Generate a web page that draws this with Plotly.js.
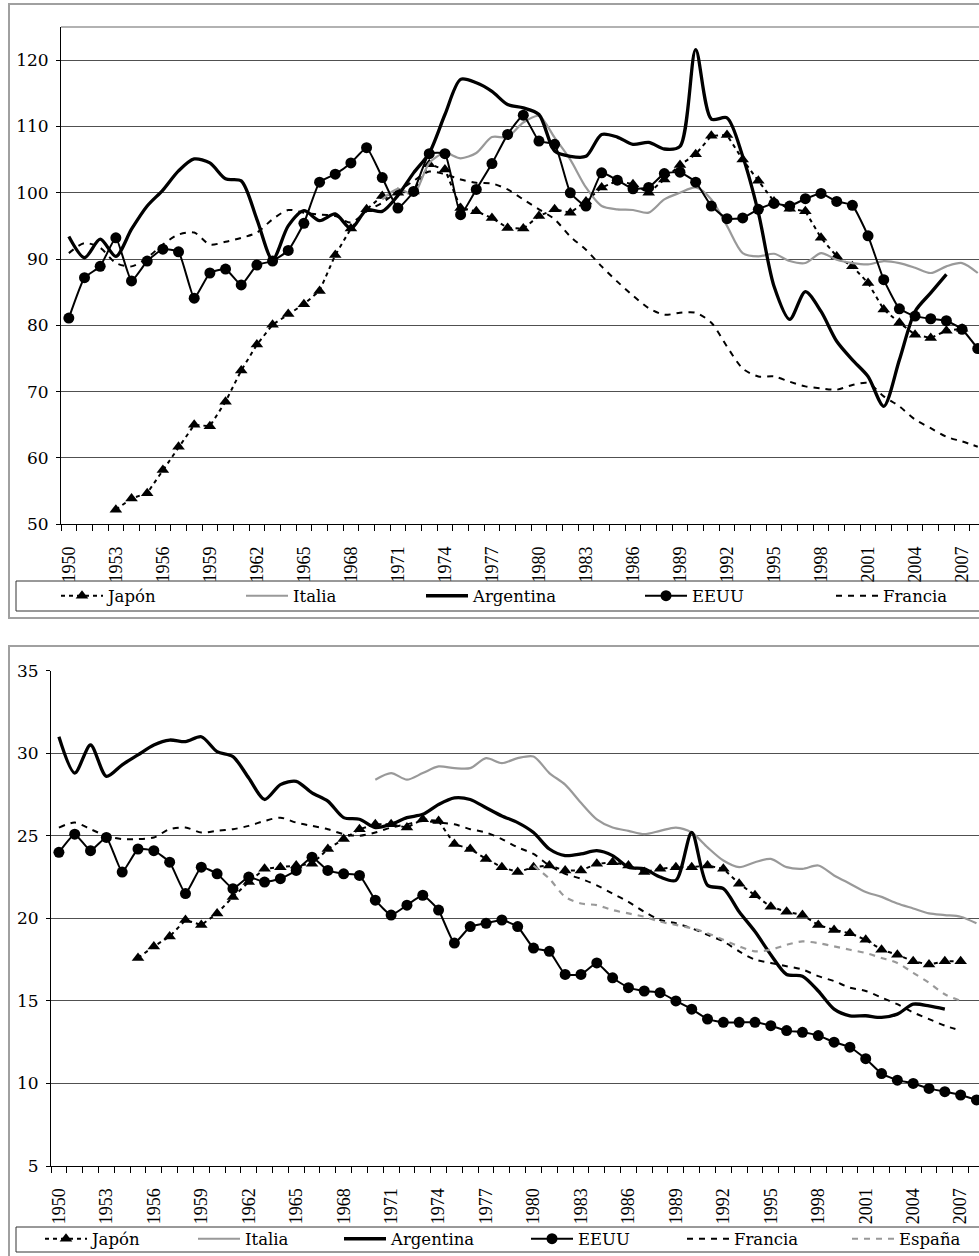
<!DOCTYPE html>
<html><head><meta charset="utf-8">
<script src="https://cdn.plot.ly/plotly-3.0.1.min.js"></script>
<style>html,body{margin:0;padding:0;background:#fff;overflow:hidden}#chart{width:979px;height:1256px}</style>
</head><body><div id="chart"></div>
<script>
const years = [1950,1951,1952,1953,1954,1955,1956,1957,1958,1959,1960,1961,1962,1963,1964,1965,1966,1967,1968,1969,
1970,1971,1972,1973,1974,1975,1976,1977,1978,1979,1980,1981,1982,1983,1984,1985,1986,1987,1988,1989,
1990,1991,1992,1993,1994,1995,1996,1997,1998,1999,2000,2001,2002,2003,2004,2005,2006,2007,2008];
const tickLabels = ['1950','1953','1956','1959','1962','1965','1968','1971','1974','1977','1980','1983','1986','1989','1992','1995','1998','2001','2004','2007'];
const seriesNames = ['Japón','Italia','Argentina','EEUU','Francia','España'];

// Top chart
const japonTop = [null,null,null,52.2,53.9,54.7,58.2,61.7,65.0,64.8,68.5,73.2,77.1,80.1,81.7,83.2,85.2,90.6,94.6,97.5,
99.5,100.0,100.2,104.3,103.5,97.7,97.2,96.2,94.7,94.6,96.5,97.5,97.0,98.7,100.8,101.8,101.3,100.0,102.0,104.2,
105.8,108.6,108.7,105.0,101.8,98.7,97.6,97.2,93.2,90.4,88.9,86.4,82.4,80.4,78.6,78.1,79.2,79.5,null];
const italiaTop = [null,null,null,null,null,null,null,null,null,null,null,null,null,null,null,null,null,null,null,null,
99.0,100.6,99.8,104.5,106.0,105.2,106.0,108.4,108.4,110.6,111.6,108.3,105.0,100.8,98.0,97.5,97.4,97.0,99.0,100.0,
100.8,99.0,95.0,90.9,90.4,90.8,89.7,89.4,90.9,89.9,89.4,89.2,89.7,89.4,88.7,87.9,88.9,89.4,87.9];
const argentinaTop = [93.4,90.2,93.0,90.4,94.5,98.0,100.4,103.3,105.1,104.5,102.1,101.8,96.0,89.9,95.0,97.3,95.8,96.8,94.6,97.4,
97.2,99.6,103.0,106.0,111.8,117.1,116.6,115.3,113.3,112.8,111.8,106.3,105.5,105.5,108.8,108.4,107.3,107.6,106.6,107.0,
121.6,111.1,111.3,105.5,97.0,85.9,80.9,85.1,82.1,77.6,74.8,72.3,67.8,74.8,82.1,84.9,87.7,null,null];
const eeuuTop = [81.1,87.2,88.9,93.2,86.7,89.7,91.5,91.1,84.1,87.9,88.5,86.1,89.1,89.7,91.3,95.4,101.6,102.8,104.5,106.8,
102.3,97.7,100.2,105.9,105.9,96.7,100.5,104.4,108.8,111.7,107.8,107.3,100.0,98.0,103.0,101.9,100.6,100.8,102.9,103.1,
101.6,98.0,96.1,96.2,97.5,98.4,98.0,99.1,99.9,98.7,98.1,93.5,86.9,82.5,81.4,81.0,80.7,79.4,76.5];
const franciaTop = [90.9,92.4,91.7,89.4,88.9,90.2,92.2,93.7,94.0,92.2,92.6,93.2,94.0,96.0,97.4,97.0,96.7,96.5,95.5,97.2,
98.5,100.2,101.8,103.2,102.8,102.0,101.5,101.4,100.5,99.0,97.5,96.0,93.4,91.4,88.9,86.6,84.5,82.6,81.6,81.9,
81.9,80.4,76.8,73.5,72.3,72.3,71.5,70.8,70.5,70.3,71.0,71.3,69.3,67.8,65.8,64.5,63.2,62.5,61.7];

// Bottom chart
const japonBot = [null,null,null,null,null,17.6,18.3,18.9,19.9,19.6,20.3,21.3,22.2,23.0,23.1,23.2,23.3,24.2,24.8,25.4,
25.7,25.7,25.5,26.0,25.9,24.5,24.2,23.6,23.1,22.8,23.1,23.2,22.9,22.9,23.3,23.4,23.2,22.8,23.0,23.1,
23.1,23.2,23.0,22.1,21.4,20.7,20.4,20.2,19.6,19.3,19.1,18.7,18.1,17.8,17.4,17.2,17.4,17.4,null];
const italiaBot = [null,null,null,null,null,null,null,null,null,null,null,null,null,null,null,null,null,null,null,null,
28.4,28.8,28.4,28.8,29.2,29.1,29.1,29.7,29.4,29.7,29.8,28.8,28.1,27.0,26.0,25.5,25.3,25.1,25.3,25.5,
25.2,24.3,23.5,23.1,23.4,23.6,23.1,23.0,23.2,22.6,22.1,21.6,21.3,20.9,20.6,20.3,20.2,20.1,19.7];
const argentinaBot = [31.0,28.8,30.5,28.6,29.3,29.9,30.5,30.8,30.7,31.0,30.1,29.8,28.5,27.2,28.1,28.3,27.6,27.1,26.1,26.0,
25.5,25.7,26.1,26.3,26.9,27.3,27.2,26.7,26.2,25.8,25.2,24.2,23.8,23.9,24.1,23.8,23.1,23.0,22.5,22.3,
25.2,22.0,21.8,20.4,19.2,17.8,16.6,16.5,15.6,14.5,14.1,14.1,14.0,14.2,14.8,14.7,14.5,null,null];
const eeuuBot = [24.0,25.1,24.1,24.9,22.8,24.2,24.1,23.4,21.5,23.1,22.7,21.8,22.5,22.2,22.4,22.9,23.7,22.9,22.7,22.6,
21.1,20.2,20.8,21.4,20.5,18.5,19.5,19.7,19.9,19.5,18.2,18.0,16.6,16.6,17.3,16.4,15.8,15.6,15.5,15.0,
14.5,13.9,13.7,13.7,13.7,13.5,13.2,13.1,12.9,12.5,12.2,11.5,10.6,10.2,10.0,9.7,9.5,9.3,9.0];
const franciaBot = [25.5,25.8,25.4,25.0,24.8,24.8,24.9,25.4,25.5,25.2,25.3,25.4,25.6,25.9,26.1,25.8,25.6,25.4,25.1,25.0,
25.2,25.5,25.7,25.9,25.8,25.7,25.4,25.2,24.8,24.3,23.9,23.2,22.7,22.4,22.0,21.5,21.0,20.4,19.9,19.7,
19.4,19.0,18.6,18.0,17.5,17.3,17.1,16.9,16.5,16.2,15.8,15.6,15.2,14.8,14.3,13.9,13.5,13.2,null];
const espanaBot = [null,null,null,null,null,null,null,null,null,null,null,null,null,null,null,null,null,null,null,null,
null,null,null,null,null,null,null,null,null,null,23.2,22.4,21.3,20.9,20.8,20.5,20.3,20.1,19.8,19.6,
19.4,19.1,18.7,18.3,18.0,18.1,18.4,18.6,18.5,18.3,18.1,17.9,17.6,17.3,16.7,16.1,15.4,15.0,null];

const W = 979, H = 1256;
const px = v => v / W;
const py = v => 1 - v / H;

const styles = {
  'Japón':     {mode:'lines+markers', line:{color:'#000', width:2, dash:'4px,4px'}, marker:{symbol:'triangle-up', size:11, color:'#000'}},
  'Italia':    {mode:'lines', line:{color:'#999', width:2.2, shape:'spline', smoothing:0.8}},
  'Argentina': {mode:'lines', line:{color:'#000', width:3.3, shape:'spline', smoothing:0.8}},
  'EEUU':      {mode:'lines+markers', line:{color:'#000', width:2, shape:'spline', smoothing:0.4}, marker:{symbol:'circle', size:11, color:'#000'}},
  'Francia':   {mode:'lines', line:{color:'#000', width:2, dash:'6px,6px', shape:'spline', smoothing:0.8}},
  'España':    {mode:'lines', line:{color:'#999', width:2.2, dash:'6px,6px', shape:'spline', smoothing:0.8}}
};

const topData = [japonTop, italiaTop, argentinaTop, eeuuTop, franciaTop];
const botData = [japonBot, italiaBot, argentinaBot, eeuuBot, franciaBot, espanaBot];

const topLegendX = [56, 241, 421, 640, 831];
const botLegendX = [40, 193, 339, 526, 682, 847];

const traces = [];
const layoutLegends = {};
const legFont = {family:'DejaVu Serif', size:16.5, color:'#000'};
let li = 1;
function legName(i){ return i === 1 ? 'legend' : 'legend' + i; }

topData.forEach((d, k) => {
  const name = seriesNames[k];
  const s = styles[name];
  const id = legName(li++);
  traces.push(Object.assign({type:'scatter', x:years, y:d, name:name, xaxis:'x', yaxis:'y', legend:id, cliponaxis:false, connectgaps:false, hoverinfo:'x+y+name'}, JSON.parse(JSON.stringify(s))));
  layoutLegends[id] = {x:px(topLegendX[k]), xanchor:'left', y:py(596), yanchor:'middle', orientation:'h', bgcolor:'rgba(0,0,0,0)', borderwidth:0, font:legFont, itemwidth:42};
});
botData.forEach((d, k) => {
  const name = seriesNames[k];
  const s = styles[name];
  const id = legName(li++);
  traces.push(Object.assign({type:'scatter', x:years, y:d, name:name, xaxis:'x2', yaxis:'y2', legend:id, cliponaxis:false, connectgaps:false, hoverinfo:'x+y+name'}, JSON.parse(JSON.stringify(s))));
  layoutLegends[id] = {x:px(botLegendX[k]), xanchor:'left', y:py(1239), yanchor:'middle', orientation:'h', bgcolor:'rgba(0,0,0,0)', borderwidth:0, font:legFont, itemwidth:42};
});

const tickVals = tickLabels.map(Number);
function xAxis(domainLeft, rightEdge, anchor){
  return {
    domain:[domainLeft, 1], anchor:anchor, range:[1949.5, rightEdge],
    tickmode:'array', tickvals:tickVals, ticktext:tickLabels, tickangle:-90,
    ticks:'', ticklabelstandoff:14,
    tickfont:{family:'Liberation Serif', size:18, color:'#000'},
    minor:{tick0:1949.5, dtick:1, ticks:'outside', ticklen:6, tickcolor:'#000', tickwidth:1, showgrid:false},
    showline:true, linecolor:'#000', linewidth:1, showgrid:false, zeroline:false, fixedrange:true
  };
}
function yAxis(domain, range, dtick, anchor){
  return {
    domain:domain, anchor:anchor, range:range, tick0:range[0], dtick:dtick, tickmode:'linear',
    ticks:'outside', ticklen:4, tickcolor:'#000', ticklabelstandoff:4,
    tickfont:{family:'DejaVu Serif', size:17, color:'#000'},
    showline:true, linecolor:'#000', linewidth:1,
    showgrid:true, gridcolor:'#505050', gridwidth:1, zeroline:false, fixedrange:true
  };
}

const layout = Object.assign({
  width:W, height:H, margin:{l:0, r:0, t:0, b:0, autoexpand:false},
  paper_bgcolor:'#fff', plot_bgcolor:'rgba(0,0,0,0)',
  showlegend:true,
  xaxis: xAxis(px(61), 2008.08, 'y'),
  yaxis: yAxis([py(524.3), py(27)], [50, 125], 10, 'x'),
  xaxis2: xAxis(px(51), 2008.16, 'y2'),
  yaxis2: yAxis([py(1166), py(670.7)], [5, 35], 5, 'x2'),
  shapes:[
    {type:'rect', xref:'paper', yref:'paper', x0:px(9), x1:1.03, y0:py(618), y1:py(4), line:{color:'#a0a0a0', width:2}},
    {type:'rect', xref:'paper', yref:'paper', x0:px(9), x1:1.03, y0:-0.02, y1:py(646), line:{color:'#a0a0a0', width:2}},
    {type:'line', xref:'paper', yref:'paper', x0:px(61), x1:1.03, y0:py(27), y1:py(27), line:{color:'#999', width:1.5}},
    {type:'rect', xref:'paper', yref:'paper', x0:px(16), x1:1.03, y0:py(611), y1:py(581), line:{color:'#333', width:1}},
    {type:'rect', xref:'paper', yref:'paper', x0:px(16), x1:1.03, y0:py(1252), y1:py(1227), line:{color:'#333', width:1}}
  ]
}, layoutLegends);

Plotly.newPlot('chart', traces, layout, {displayModeBar:false, staticPlot:true});
</script></body></html>
